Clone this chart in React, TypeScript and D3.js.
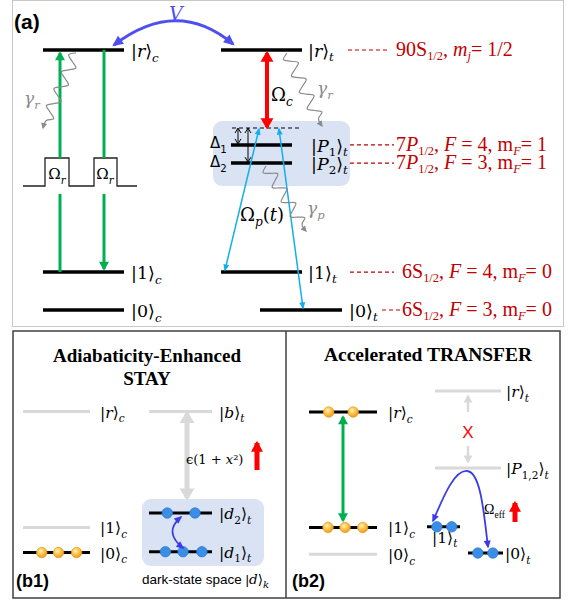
import React from 'react';
import * as d3 from 'd3';

const W = 577;
const H = 604;

// ---- panel (a): energy levels, arbitrary units (0 = |0>, 100 = Rydberg) ----
const ctrlLevels = [
  { name: 'r', sub: 'c', e: 100 },
  { name: '1', sub: 'c', e: 14.6 },
  { name: '0', sub: 'c', e: 0 },
];
const tgtLevels = [
  { name: 'r', inner: '', sub: 't', e: 100, col: 't' },
  { name: 'P', inner: '1', sub: 't', e: 63.5, col: 'p' },
  { name: 'P', inner: '2', sub: 't', e: 56.5, col: 'p' },
  { name: '1', inner: '', sub: 't', e: 14.6, col: 't' },
  { name: '0', inner: '', sub: 't', e: 0, col: 't0' },
];
const virtualLevel = 70;

// spectroscopic names (segments: text, style  i=italic s=subscript)
const specLabels: { e: number; segs: [string, string?][] }[] = [
  { e: 100, segs: [['90S'], ['1/2', 's'], [', '], ['m', 'i'], ['j', 'si'], ['= 1/2']] },
  { e: 63.5, segs: [['7'], ['P', 'i'], ['1/2', 's'], [', '], ['F', 'i'], [' = 4, m'], ['F', 'si'], ['= 1']] },
  { e: 56.5, segs: [['7'], ['P', 'i'], ['1/2', 's'], [', '], ['F', 'i'], [' = 3, m'], ['F', 'si'], ['= 1']] },
  { e: 14.6, segs: [['6S'], ['1/2', 's'], [', '], ['F', 'i'], [' = 4, m'], ['F', 'si'], ['= 0']] },
  { e: 0, segs: [['6S'], ['1/2', 's'], [', '], ['F', 'i'], [' = 3, m'], ['F', 'si'], ['= 0']] },
];

// ---- panel (b): levels, arbitrary units ----
const b1Levels = [
  { id: 'rc', name: 'r', sub: 'c', e: 87.5, col: 'c', on: false },
  { id: 'bt', name: 'b', sub: 't', e: 87.5, col: 'd', on: false },
  { id: 'd2', name: 'd', inner: '2', sub: 't', e: 25.6, col: 'd', on: true },
  { id: '1c', name: '1', sub: 'c', e: 16.8, col: 'c', on: false },
  { id: 'd1', name: 'd', inner: '1', sub: 't', e: 2, col: 'd', on: true },
  { id: '0c', name: '0', sub: 'c', e: 1.5, col: 'c', on: true },
];
const b2Levels = [
  { id: 'rt', name: 'r', sub: 't', e: 100, col: 'p', on: false },
  { id: 'rc', name: 'r', sub: 'c', e: 87.2, col: 'c', on: true },
  { id: 'pt', name: 'P', inner: '1,2', sub: 't', e: 53, col: 'p', on: false },
  { id: '1c', name: '1', sub: 'c', e: 16.8, col: 'c', on: true },
  { id: '1t', name: '1', sub: 't', e: 17.2, col: 't1', on: true },
  { id: '0c', name: '0', sub: 'c', e: 0.5, col: 'c', on: false },
  { id: '0t', name: '0', sub: 't', e: 1.2, col: 't0', on: true },
];
// atom populations: level id -> dot positions along the level (0..1)
const b1Dots = [
  { level: '0c', at: [0.28, 0.53, 0.8], kind: 'ctrl' },
  { level: 'd2', at: [0.29, 0.73], kind: 'tgt' },
  { level: 'd1', at: [0.26, 0.54, 0.84], kind: 'tgt' },
];
const b2Dots = [
  { level: 'rc', at: [0.29, 0.65], kind: 'ctrl' },
  { level: '1c', at: [0.28, 0.53, 0.79], kind: 'ctrl' },
  { level: '1t', at: [0.3, 0.75], kind: 'tgt' },
  { level: '0t', at: [0.28, 0.71], kind: 'tgt' },
];

const C = {
  green: '#00b050',
  red: '#ff0000',
  darkRed: '#c00000',
  violet: '#4f4ff0',
  cyan: '#12aef0',
  gray: '#8a8a8a',
  light: '#d9d9d9',
  box: '#dae3f3',
  purple: '#3c3ce6',
};

const yA = d3.scaleLinear().domain([0, 100]).range([310, 50]);
const yB = d3.scaleLinear().domain([0, 100]).range([555, 391]);

const colA: Record<string, [number, number, number]> = {
  c: [43, 124, 131],
  t: [221, 302, 308],
  p: [231, 292, 311],
  t0: [260, 342, 349],
};
const colB1: Record<string, [number, number, number]> = { c: [23, 90, 100], d: [149, 212, 219] };
const colB2: Record<string, [number, number, number]> = {
  c: [309, 377, 388],
  p: [435, 501, 506],
  t1: [427, 460, 432],
  t0: [468, 503, 505],
};

type Seg = [string, string?];
const Rich = ({ x, y, segs, size, fill = '#000', family = 'DejaVu Serif', anchor, subShift = 0.3, subSize = 0.68 }: any) => {
  let shift = 0;
  const parts = (segs as Seg[]).map(([t, st = ''], i) => {
    const sub = st.includes('s');
    const target = sub ? size * subShift : 0;
    const dy = target - shift;
    shift = target;
    return (
      <tspan key={i} dy={dy} fontStyle={st.includes('i') ? 'italic' : 'normal'} fontSize={sub ? size * subSize : size}>
        {t}
      </tspan>
    );
  });
  return (
    <text x={x} y={y} fontFamily={family} fontSize={size} fill={fill} textAnchor={anchor} style={{ whiteSpace: 'pre' }}>
      {parts}
    </text>
  );
};

const ketSegs = (name: string, sub: string, inner?: string): Seg[] => {
  const s: Seg[] = [['|'], [name, /\d/.test(name) ? '' : 'i']];
  if (inner) s.push([inner, 's']);
  s.push(['\u27E9']);
  s.push([sub, 'si']);
  return s;
};

// squiggly decay line from (x0,y0) to (x1,y1)
const wavy = (x0: number, y0: number, x1: number, y1: number, amp = 6, n = 4) => {
  const dx = x1 - x0;
  const dy = y1 - y0;
  const len = Math.hypot(dx, dy);
  const nx = -dy / len;
  const ny = dx / len;
  const pts: [number, number][] = [];
  const steps = n * 4;
  for (let i = 0; i <= steps; i++) {
    const t = (i / steps) * 0.9;
    const o = i === 0 ? 0 : amp * (i % 2 === 0 ? 0 : i % 4 === 1 ? 1 : -1);
    pts.push([x0 + dx * t + nx * o, y0 + dy * t + ny * o]);
  }
  pts.push([x1, y1]);
  return d3.line().curve(d3.curveCatmullRom)(pts) as string;
};

const Marker = ({ id, color, w, h, open = false }: any) => (
  <marker
    id={id}
    markerUnits="userSpaceOnUse"
    markerWidth={w + 2}
    markerHeight={h + 2}
    viewBox={`-1 -1 ${w + 2} ${h + 2}`}
    refX={w * 0.8}
    refY={h / 2}
    orient="auto-start-reverse"
  >
    {open ? (
      <path d={`M0,0 L${w},${h / 2} L0,${h}`} fill="none" stroke={color} strokeWidth={1} />
    ) : (
      <path d={`M0,0 L${w},${h / 2} L0,${h} Z`} fill={color} />
    )}
  </marker>
);

const Level = ({ x1, x2, y, color = '#000', w = 3.5 }: any) => (
  <line x1={x1} x2={x2} y1={y} y2={y} stroke={color} strokeWidth={w} />
);

const App = () => {
  const [cx1, cx2, cLab] = colA.c;
  const ctrlY = (n: string) => yA(ctrlLevels.find((l) => l.name === n)!.e);
  const tgtY = (n: string, inner = '') => yA(tgtLevels.find((l) => l.name === n && l.inner === inner)!.e);

  const pulseY0 = 186;
  const pulseY1 = 158;
  const pulse = d3.path();
  pulse.moveTo(23, pulseY0);
  [[45, 69], [94, 117]].forEach(([a, b]) => {
    pulse.lineTo(a, pulseY0);
    pulse.lineTo(a, pulseY1);
    pulse.lineTo(b, pulseY1);
    pulse.lineTo(b, pulseY0);
  });
  pulse.lineTo(137, pulseY0);

  const vArc = d3.path();
  vArc.moveTo(114, 45);
  vArc.quadraticCurveTo(177, -3, 233, 44);

  const yVirt = yA(virtualLevel);

  const b1Map = Object.fromEntries(b1Levels.map((l) => [l.id, l]));
  const b2Map = Object.fromEntries(b2Levels.map((l) => [l.id, l]));

  const dotsFor = (dots: any[], map: any, cols: any) =>
    dots.flatMap((d) => {
      const l = map[d.level];
      const [a, b] = cols[l.col];
      return d.at.map((t: number, i: number) => (
        <circle
          key={d.level + i}
          cx={a + (b - a) * t}
          cy={yB(l.e)}
          r={5.2}
          fill={d.kind === 'ctrl' ? 'url(#orb)' : '#3a8ee6'}
          stroke={d.kind === 'ctrl' ? '#e8a028' : '#2f7fd6'}
          strokeWidth={0.8}
        />
      ));
    });

  const levelsFor = (levels: any[], cols: any) =>
    levels.map((l) => {
      const [a, b, lab] = cols[l.col];
      const y = yB(l.e);
      const under = l.id === '1t' && cols === colB2;
      return (
        <g key={l.id}>
          <Level x1={a} x2={b} y={y} color={l.on ? '#000' : C.light} w={3} />
          <Rich x={lab} y={under ? y + 16 : y + 6} segs={ketSegs(l.name, l.sub, l.inner)} size={15.5} />
        </g>
      );
    });

  return (
    <div style={{ position: 'absolute', left: 0, top: 0 }}>
      <svg width={W} height={H} style={{ display: 'block', background: '#fff' }}>
        <defs>
          <Marker id="mGreen" color={C.green} w={9} h={10} />
          <Marker id="mRed" color={C.red} w={11} h={13} />
          <Marker id="mViolet" color={C.violet} w={11} h={10} />
          <Marker id="mCyan" color={C.cyan} w={7} h={6} />
          <Marker id="mGray" color={C.gray} w={6} h={6} />
          <Marker id="mBlack" color="#000" w={5} h={6} open />
          <Marker id="mLight" color={C.light} w={12} h={15} />
          <Marker id="mLightS" color={C.light} w={8} h={9} />
          <Marker id="mPurple" color={C.purple} w={8} h={7} />
          <Marker id="mRedB" color={C.red} w={11} h={12} />
          <radialGradient id="orb" cx="40%" cy="35%" r="65%">
            <stop offset="0%" stopColor="#fff3b0" />
            <stop offset="55%" stopColor="#fbc04a" />
            <stop offset="100%" stopColor="#f09a1a" />
          </radialGradient>
        </defs>

        {/* ---------------- panel (a) ---------------- */}
        <rect x={12.5} y={0.5} width={551} height={326} fill="none" stroke="#c8c8c8" />
        <text x={14} y={29} fontFamily="Liberation Sans" fontWeight="bold" fontSize={21}>
          (a)
        </text>

        {/* shaded P manifold */}
        <rect x={213} y={121} width={137} height={65} rx={9} fill={C.box} />

        {/* control atom */}
        {ctrlLevels.map((l) => (
          <g key={'c' + l.name}>
            <Level x1={cx1} x2={cx2} y={yA(l.e)} />
            <Rich x={cLab} y={yA(l.e) + 7} segs={ketSegs(l.name, l.sub)} size={17.5} />
          </g>
        ))}
        <path d={pulse.toString()} fill="none" stroke="#222" strokeWidth={1.3} />
        {[57, 105].map((x) => (
          <Rich key={x} x={x} y={179} segs={[['\u03A9'], ['r', 'si']]} size={15} anchor="middle" />
        ))}
        <line x1={60} x2={60} y1={pulseY1} y2={ctrlY('r') + 3} stroke={C.green} strokeWidth={3} markerEnd="url(#mGreen)" />
        <line x1={60} x2={60} y1={194} y2={ctrlY('1')} stroke={C.green} strokeWidth={3} />
        <line x1={104} x2={104} y1={pulseY1} y2={ctrlY('r')} stroke={C.green} strokeWidth={3} />
        <line x1={104} x2={104} y1={194} y2={ctrlY('1') - 3} stroke={C.green} strokeWidth={3} markerEnd="url(#mGreen)" />
        <path d={wavy(76, 53, 43, 128)} fill="none" stroke={C.gray} strokeWidth={1.2} markerEnd="url(#mGray)" />
        <Rich x={24} y={104} segs={[['\u03B3', 'i'], ['r', 'si']]} size={17} fill={C.gray} />

        {/* V interaction */}
        <path d={vArc.toString()} fill="none" stroke={C.violet} strokeWidth={3} markerStart="url(#mViolet)" markerEnd="url(#mViolet)" />
        <text x={169} y={20} fontFamily="DejaVu Serif" fontStyle="italic" fontSize={19} fill={C.violet}>
          V
        </text>

        {/* target atom */}
        {tgtLevels.map((l) => {
          const [a, b, lab] = colA[l.col];
          return (
            <g key={'t' + l.name + l.inner}>
              <Level x1={a} x2={b} y={yA(l.e)} />
              <Rich x={lab} y={yA(l.e) + 7} segs={ketSegs(l.name, l.sub, l.inner)} size={17.5} subShift={0.25} />
            </g>
          );
        })}
        <line x1={232} x2={301} y1={yVirt} y2={yVirt} stroke="#000" strokeWidth={1} strokeDasharray="4,3" />
        <line x1={238} x2={238} y1={yVirt + 1} y2={tgtY('P', '1') - 2} stroke="#000" strokeWidth={1} markerStart="url(#mBlack)" markerEnd="url(#mBlack)" />
        <line x1={248} x2={248} y1={yVirt + 1} y2={tgtY('P', '2') - 2} stroke="#000" strokeWidth={1} markerStart="url(#mBlack)" markerEnd="url(#mBlack)" />
        <Rich x={210} y={148} segs={[['\u0394'], ['1', 's']]} size={15} family="DejaVu Sans" />
        <Rich x={210} y={167} segs={[['\u0394'], ['2', 's']]} size={15} family="DejaVu Sans" />

        <line x1={267} x2={267} y1={tgtY('r') + 3} y2={yVirt - 1} stroke={C.red} strokeWidth={4} markerStart="url(#mRed)" markerEnd="url(#mRed)" />
        <Rich x={271} y={101} segs={[['\u03A9'], ['c', 'si']]} size={18} />
        <path d={wavy(287, 53, 322, 126)} fill="none" stroke={C.gray} strokeWidth={1.2} markerEnd="url(#mGray)" />
        <Rich x={317} y={94} segs={[['\u03B3', 'i'], ['r', 'si']]} size={17} fill={C.gray} />

        <line x1={259} y1={yVirt + 1} x2={225} y2={tgtY('1') - 2} stroke={C.cyan} strokeWidth={1.5} markerStart="url(#mCyan)" markerEnd="url(#mCyan)" />
        <line x1={279} y1={yVirt + 1} x2={303} y2={tgtY('0') - 2} stroke={C.cyan} strokeWidth={1.5} markerStart="url(#mCyan)" markerEnd="url(#mCyan)" />
        <Rich x={240} y={221} segs={[['\u03A9'], ['p', 'si'], ['('], ['t', 'i'], [')']]} size={18} />
        <path d={wavy(266, 166, 306, 231)} fill="none" stroke={C.gray} strokeWidth={1.2} markerEnd="url(#mGray)" />
        <Rich x={307} y={214} segs={[['\u03B3', 'i'], ['p', 'si']]} size={17} fill={C.gray} />

        {/* spectroscopic labels */}
        {specLabels.map((s, i) => {
          const y = yA(s.e);
          const x0 = [348, 350, 350, 350, 382][i];
          const x1 = [389, 394, 394, 394, 400][i];
          const tx = [396, 396, 396, 402, 402][i];
          return (
            <g key={i}>
              <line x1={x0} x2={x1} y1={y} y2={y} stroke={C.darkRed} strokeWidth={1.2} strokeDasharray="4,3" />
              <Rich
                x={tx}
                y={y + 6}
                segs={s.segs}
                size={20}
                fill={C.darkRed}
                family="Liberation Serif"
                subShift={0.2}
                subSize={0.62}
              />
            </g>
          );
        })}

        {/* ---------------- panel (b) ---------------- */}
        <rect x={13} y={331} width={547} height={267} fill="none" stroke="#404040" strokeWidth={1.5} />
        <line x1={286} x2={286} y1={331} y2={598} stroke="#404040" strokeWidth={1.5} />

        {/* b1 */}
        <text x={147} y={362} textAnchor="middle" fontFamily="Liberation Serif" fontWeight="bold" fontSize={19}>
          Adiabaticity-Enhanced
        </text>
        <text x={147} y={385} textAnchor="middle" fontFamily="Liberation Serif" fontWeight="bold" fontSize={19}>
          STAY
        </text>
        <rect x={142} y={499} width={122} height={67} rx={9} fill={C.box} />
        {levelsFor(b1Levels, colB1)}
        {dotsFor(b1Dots, b1Map, colB1)}
        <line x1={187} x2={187} y1={yB(b1Map.bt.e) + 2} y2={yB(b1Map.d2.e) - 15} stroke={C.light} strokeWidth={5} markerStart="url(#mLight)" markerEnd="url(#mLight)" />
        <Rich x={186} y={464} segs={[['\u03F5(1 + '], ['x', 'i'], ['\u00B2)']]} size={13} />
        <line x1={257} x2={257} y1={470} y2={443} stroke={C.red} strokeWidth={5} markerEnd="url(#mRedB)" />
        <path d="M183,548 Q163,532 181,517" fill="none" stroke={C.purple} strokeWidth={1.8} markerStart="url(#mPurple)" markerEnd="url(#mPurple)" />
        <text x={142} y={584} fontFamily="Liberation Sans" fontSize={13.5}>
          dark-state space |<tspan fontFamily="DejaVu Serif" fontStyle="italic">d</tspan>
          <tspan fontFamily="DejaVu Serif">{'\u27E9'}</tspan>
          <tspan fontFamily="DejaVu Serif" fontStyle="italic" fontSize={10} dy={4}>
            k
          </tspan>
        </text>
        <text x={16} y={587} fontFamily="Liberation Sans" fontWeight="bold" fontSize={18}>
          (b1)
        </text>

        {/* b2 */}
        <text x={428} y={361} textAnchor="middle" fontFamily="Liberation Serif" fontWeight="bold" fontSize={19.5}>
          Accelerated TRANSFER
        </text>
        {levelsFor(b2Levels, colB2)}
        {dotsFor(b2Dots, b2Map, colB2)}
        <line x1={343} x2={343} y1={yB(b2Map.rc.e) + 5} y2={yB(b2Map['1c'].e) - 7} stroke={C.green} strokeWidth={3} markerStart="url(#mGreen)" markerEnd="url(#mGreen)" />
        <line x1={468} x2={468} y1={412} y2={396} stroke={C.light} strokeWidth={2.5} markerEnd="url(#mLightS)" />
        <line x1={468} x2={468} y1={446} y2={462} stroke={C.light} strokeWidth={2.5} markerEnd="url(#mLightS)" />
        <text x={468} y={438} textAnchor="middle" fontFamily="Liberation Sans" fontSize={17} fill={C.red}>
          X
        </text>
        <path
          d="M433,521 C443,498 454,470 467,471 C481,472 484,515 488,547"
          fill="none"
          stroke={C.purple}
          strokeWidth={1.8}
          markerStart="url(#mPurple)"
          markerEnd="url(#mPurple)"
        />
        <Rich x={484} y={514} segs={[['\u03A9'], ['eff', 's']]} size={14} family="Liberation Serif" />
        <line x1={515} x2={515} y1={522} y2={503} stroke={C.red} strokeWidth={5} markerEnd="url(#mRedB)" />
        <text x={292} y={587} fontFamily="Liberation Sans" fontWeight="bold" fontSize={18}>
          (b2)
        </text>
      </svg>
    </div>
  );
};

export default App;
